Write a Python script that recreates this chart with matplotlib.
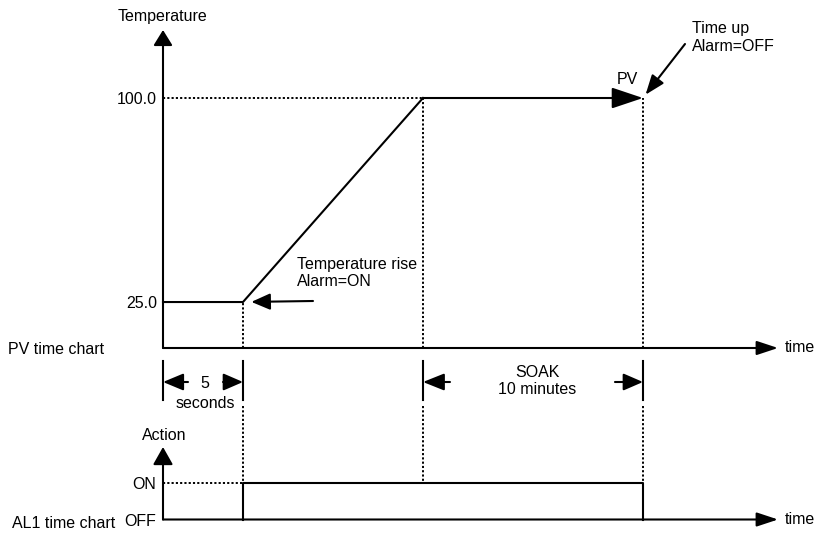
import matplotlib.pyplot as plt
from matplotlib import transforms

W, H, DPI = 816, 535, 100

# PV profile (x in chart units, the first step is the 5 second delay)
pv_time = [0, 5, 16.25, 30]
pv_temp = [25.0, 25.0, 100.0, 100.0]
temp_ticks = [25.0, 100.0]
temp_labels = ["25.0", "100.0"]

# AL1 output
al1_time = [5, 5, 30, 30]
al1_state = [0, 1, 1, 0]
state_ticks = [0, 1]
state_labels = ["OFF", "ON"]

T_MAX = 38.44
TEMP_LIM = (8.1, 125.0)
STATE_LIM = (0, 1.99)

DOT = dict(color="black", lw=1.4, linestyle=(0, (1.1, 1.1)), clip_on=False)
SOLID = dict(color="black", lw=1.5, clip_on=False)

plt.rcParams["font.family"] = ["Liberation Sans", "DejaVu Sans"]
plt.rcParams["font.size"] = 11.5


def fx(px):
    return px / W


def fy(py):
    return 1 - py / H


def arrow(ax, xy, xytext, hl, hw, xycoords="data", textcoords="offset pixels", shrink=0):
    ax.annotate("", xy=xy, xytext=xytext, xycoords=xycoords, textcoords=textcoords,
                annotation_clip=False,
                arrowprops=dict(arrowstyle=f"-|>,head_length={hl},head_width={hw}",
                                mutation_scale=10, lw=1.5, color="black",
                                shrinkA=0, shrinkB=shrink))


def setup(ax, ylim, ticks, labels, pad, y_head):
    ax.set_facecolor("none")
    ax.set_xlim(0, T_MAX)
    ax.set_ylim(*ylim)
    for s in ax.spines.values():
        s.set_visible(False)
    ax.set_xticks([])
    ax.set_yticks(ticks, labels=labels)
    ax.tick_params(axis="y", length=0, pad=pad, labelsize=11.5)
    # axes as arrows
    arrow(ax, (0, 1), (0, 0), y_head[0], y_head[1], "axes fraction", "axes fraction")
    arrow(ax, (1, 0), (0, 0), 1.3, 0.43, "axes fraction", "axes fraction")


fig = plt.figure(figsize=(W / DPI, H / DPI), dpi=DPI)
ax_pv = fig.add_axes([fx(163), fy(348), fx(778) - fx(163), fy(30) - fy(348)])
ax_al = fig.add_axes([fx(163), fy(519.5), fx(778) - fx(163), fy(447) - fy(519.5)])

setup(ax_pv, TEMP_LIM, temp_ticks, temp_labels, 4.3, (0.94, 0.58))
setup(ax_al, STATE_LIM, state_ticks, state_labels, 5.0, (1.08, 0.61))

t_start, t_top, t_end = pv_time[1], pv_time[2], pv_time[3]

# PV curve
ax_pv.plot(pv_time[:3], pv_temp[:3], **SOLID)
arrow(ax_pv, (t_end, pv_temp[3]), (t_top, pv_temp[2]), 1.94, 0.65, textcoords="data")

# dotted guides in the PV chart
ax_pv.plot([0, t_top], [pv_temp[2]] * 2, **DOT)
for t, v in zip(pv_time[1:], pv_temp[1:]):
    ax_pv.plot([t, t], [TEMP_LIM[0], v], **DOT)

# AL1 signal and guides
ax_al.plot(al1_time, al1_state, **SOLID)
ax_al.plot([0, t_start], [1, 1], **DOT)

# between the two charts: interval markers and dotted guides
trans = transforms.blended_transform_factory(ax_pv.transData, fig.transFigure)
for t in (0, t_start, t_top, t_end):
    ax_pv.plot([t, t], [fy(361), fy(400)], transform=trans, **SOLID)
for t in (t_start, t_top, t_end):
    ax_pv.plot([t, t], [fy(406), fy(483)], transform=trans, **DOT)

y_mark = fy(382)
arrow(ax_pv, (0, y_mark), (25, 0), 1.25, 0.52, xycoords=trans)
arrow(ax_pv, (t_start, y_mark), (-20, 0), 1.2, 0.52, xycoords=trans)
arrow(ax_pv, (t_top, y_mark), (27, 0), 1.3, 0.52, xycoords=trans)
arrow(ax_pv, (t_end, y_mark), (-28, 0), 1.2, 0.52, xycoords=trans)

# callout arrows
arrow(ax_pv, (t_start, pv_temp[1]), (313, H - 301), 1.15, 0.5,
      textcoords="figure pixels", shrink=6)
arrow(ax_pv, (t_end, pv_temp[3]), (685, H - 44), 1.2, 0.45,
      textcoords="figure pixels", shrink=3)

# labels
fig.text(fx(163), fy(16), "Temperature", ha="center", va="center")
fig.text(fx(164), fy(435), "Action", ha="center", va="center")
fig.text(fx(8), fy(350), "PV time chart", ha="left", va="center")
fig.text(fx(12), fy(524), "AL1 time chart", ha="left", va="center")
fig.text(fx(785), fy(348), "time", ha="left", va="center")
fig.text(fx(785), fy(520), "time", ha="left", va="center")
fig.text(fx(627), fy(80), "PV", ha="center", va="center")
fig.text(fx(692), fy(37.5), "Time up\nAlarm=OFF", ha="left", va="center")
fig.text(fx(297), fy(273), "Temperature rise\nAlarm=ON", ha="left", va="center")
fig.text(fx(205), fy(383), "5", ha="center", va="center")
fig.text(fx(205), fy(404), "seconds", ha="center", va="center")
fig.text(fx(537), fy(381), "SOAK\n10 minutes", ha="center", va="center",
         linespacing=1.1)

fig.savefig("out.png", dpi=DPI, facecolor="white")
